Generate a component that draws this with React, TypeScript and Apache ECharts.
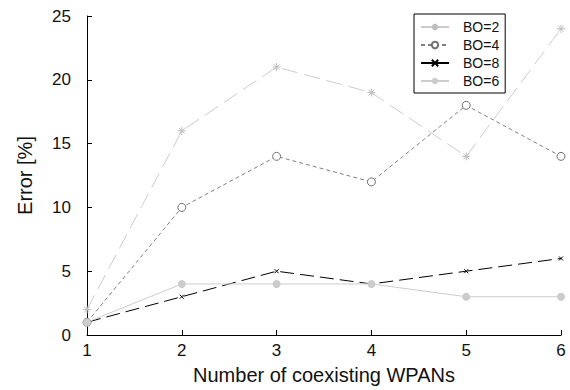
import React, { useEffect, useRef } from "react";
import * as echarts from "echarts";

const xCategories = [1, 2, 3, 4, 5, 6];
const bo2 = [2, 16, 21, 19, 14, 24];
const bo4 = [1, 10, 14, 12, 18, 14];
const bo8 = [1, 3, 5, 4, 5, 6];
const bo6 = [1, 4, 4, 4, 3, 3];
const seriesNames = ["BO=2", "BO=4", "BO=8", "BO=6"];

const starPath =
  "path://M5 0 L5 10 M0 5 L10 5 M1.5 1.5 L8.5 8.5 M8.5 1.5 L1.5 8.5";
const xPath = "path://M0 0 L10 10 M10 0 L0 10";

export default function App() {
  const ref = useRef<HTMLDivElement>(null);
  useEffect(() => {
    const chart = echarts.init(ref.current!, null, { renderer: "svg" });
    const font = "Liberation Sans, Arial, Helvetica, sans-serif";
    const mk = (d: number[]) => d.map((v, i) => [xCategories[i], v]);
    chart.setOption({
      animation: false,
      backgroundColor: "#ffffff",
      grid: { left: 87, right: 9, top: 16, bottom: 54 },
      legend: {
        orient: "vertical",
        left: 414,
        top: 14,
        padding: [6, 6, 5, 6],
        itemGap: 4,
        itemWidth: 28,
        itemHeight: 8,
        borderColor: "#000",
        borderWidth: 1,
        data: [
          { name: seriesNames[0], lineStyle: { type: "solid" } },
          { name: seriesNames[1], lineStyle: { type: [4, 3] } },
          { name: seriesNames[2], lineStyle: { type: "solid" } },
          { name: seriesNames[3] },
        ],
        textStyle: { fontFamily: font, fontSize: 14, color: "#111", padding: [0, 0, 0, 9] },
      },
      xAxis: {
        type: "value",
        min: 1,
        max: 6,
        interval: 1,
        name: "Number of coexisting WPANs",
        nameLocation: "middle",
        nameGap: 30,
        nameTextStyle: { fontFamily: font, fontSize: 20, color: "#111" },
        axisLine: { show: true, lineStyle: { color: "#000", width: 1 } },
        axisTick: { show: true, inside: true, length: 5, lineStyle: { color: "#000" } },
        axisLabel: { fontFamily: font, fontSize: 17, color: "#111", margin: 7 },
        splitLine: { show: false },
      },
      yAxis: {
        type: "value",
        min: 0,
        max: 25,
        interval: 5,
        name: "Error [%]",
        nameLocation: "middle",
        nameGap: 52,
        nameTextStyle: { fontFamily: font, fontSize: 20, color: "#111" },
        axisLine: { show: true, lineStyle: { color: "#000", width: 1 } },
        axisTick: { show: true, inside: true, length: 5, lineStyle: { color: "#000" } },
        axisLabel: { fontFamily: font, fontSize: 17, color: "#111", margin: 16 },
        splitLine: { show: false },
      },
      series: [
        {
          name: "BO=2",
          type: "line",
          data: mk(bo2),
          symbol: starPath,
          symbolSize: 8,
          lineStyle: { color: "#cccccc", width: 1, type: [16, 7] },
          itemStyle: { color: "#bdbdbd", borderColor: "#bdbdbd", borderWidth: 1 },
        },
        {
          name: "BO=4",
          type: "line",
          data: mk(bo4),
          symbol: "circle",
          symbolSize: 8,
          lineStyle: { color: "#808080", width: 1, type: [4, 3] },
          itemStyle: { color: "#ffffff", borderColor: "#707070", borderWidth: 1 },
        },
        {
          name: "BO=8",
          type: "line",
          data: mk(bo8),
          symbol: xPath,
          symbolSize: 4,
          lineStyle: { color: "#000000", width: 1, type: [14, 6] },
          itemStyle: { color: "#000", borderColor: "#000", borderWidth: 1 },
        },
        {
          name: "BO=6",
          type: "line",
          data: mk(bo6),
          symbol: "circle",
          symbolSize: 8,
          lineStyle: { color: "#cccccc", width: 1 },
          itemStyle: { color: "#cccccc", borderColor: "#cccccc", borderWidth: 0 },
        },
      ],
    });
    return () => chart.dispose();
  }, []);
  return <div ref={ref} style={{ width: 570, height: 390, position: "absolute", left: 0, top: 0 }} />;
}
